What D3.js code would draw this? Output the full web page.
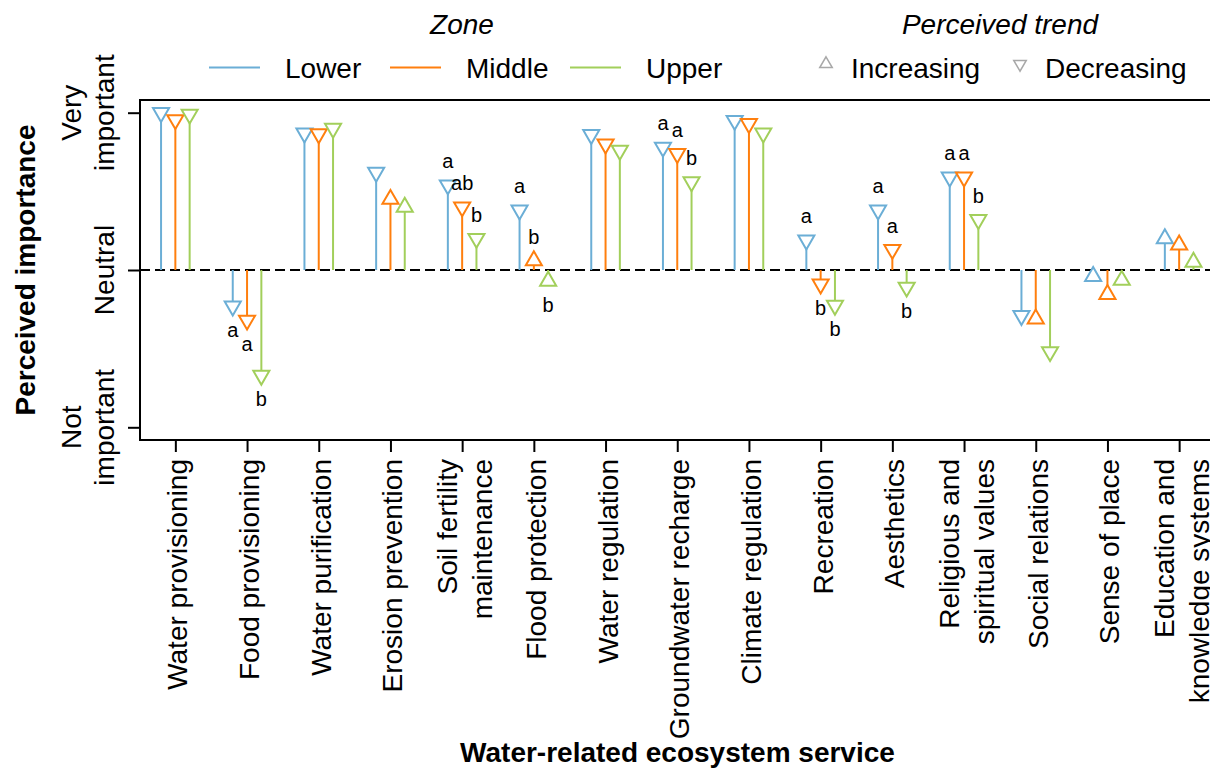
<!DOCTYPE html>
<html>
<head>
<meta charset="utf-8">
<script src="https://cdn.jsdelivr.net/npm/d3@7"></script>
<style>
  html, body { margin: 0; padding: 0; background: #fff; }
  svg { display: block; font-family: "Liberation Sans", Arial, Helvetica, sans-serif; }
</style>
</head>
<body>
<svg id="chart" width="1210" height="768"></svg>
<script>
// ---------- data ----------
const categories = [
  "Water provisioning", "Food provisioning", "Water purification", "Erosion prevention",
  "Soil fertility\nmaintenance", "Flood protection", "Water regulation", "Groundwater recharge",
  "Climate regulation", "Recreation", "Aesthetics", "Religious and\nspiritual values",
  "Social relations", "Sense of place", "Education and\nknowledge systems"
];
const zones = ["Lower", "Middle", "Upper"];
const zoneColors = ["#6BAED6", "#FF7F0E", "#A2CF5B"];

const lowerValues  = [1.00, -0.23, 0.87, 0.62, 0.54, 0.38, 0.86, 0.78, 0.95, 0.19, 0.38, 0.59, -0.29, -0.04, 0.20];
const middleValues = [0.955, -0.32, 0.865, 0.45, 0.40, 0.06, 0.80, 0.74, 0.93, -0.09, 0.13, 0.59, -0.31, -0.155, 0.16];
const upperValues  = [0.99, -0.67, 0.90, 0.40, 0.20, -0.07, 0.76, 0.56, 0.87, -0.225, -0.11, 0.32, -0.52, -0.065, 0.05];

// I = increasing (up triangle), D = decreasing (down triangle)
const lowerTrend  = ["D","D","D","D","D","D","D","D","D","D","D","D","D","I","I"];
const middleTrend = ["D","D","D","I","D","I","D","D","D","D","D","D","I","I","I"];
const upperTrend  = ["D","D","D","I","D","I","D","D","D","D","D","D","D","I","I"];

const lowerLetters  = ["", "a", "", "", "a",  "a", "", "a", "", "a", "a", "a", "", "", ""];
const middleLetters = ["", "a", "", "", "ab", "b", "", "a", "", "b", "a", "a", "", "", ""];
const upperLetters  = ["", "b", "", "", "b",  "b", "", "b", "", "b", "b", "b", "", "", ""];

const yTickValues = [-1, 0, 1];
const yTickLabels = ["Not\nimportant", "Neutral", "Very\nimportant"];
const trendLabels = ["Increasing", "Decreasing"];

// ---------- build ----------
const valuesByZone = [lowerValues, middleValues, upperValues];
const trendByZone = [lowerTrend, middleTrend, upperTrend];
const lettersByZone = [lowerLetters, middleLetters, upperLetters];
const points = [];
categories.forEach((c, i) => {
  zones.forEach((z, j) => {
    points.push({ cat: c, zone: z, color: zoneColors[j], value: valuesByZone[j][i],
                  trend: trendByZone[j][i], letter: lettersByZone[j][i] });
  });
});

const svg = d3.select("#chart");
const FS = 28;
const plotLeft = 140, plotTop = 100, plotBottom = 440, plotRight = 1215;

const x = d3.scalePoint().domain(categories).range([plotLeft - 0.5, plotRight]).padding(0.5);
const xOff = d3.scalePoint().domain(zones).range([-14.3, 14.3]);
const y = d3.scaleLinear().domain([-1, 1]).range([427.3, 112.7]);

const tri = d3.symbol().type(d3.symbolTriangle).size(112);
const triLegend = d3.symbol().type(d3.symbolTriangle).size(68);

// zero dashed line
svg.append("line")
  .attr("x1", plotLeft).attr("x2", 1210)
  .attr("y1", y(0)).attr("y2", y(0))
  .attr("stroke", "#000").attr("stroke-width", 2)
  .attr("stroke-dasharray", "10,5");

// stems
svg.append("g").selectAll("line").data(points).join("line")
  .attr("x1", d => x(d.cat) + xOff(d.zone))
  .attr("x2", d => x(d.cat) + xOff(d.zone))
  .attr("y1", y(0))
  .attr("y2", d => y(d.value))
  .attr("stroke", d => d.color)
  .attr("stroke-width", 2);

// triangles
svg.append("g").selectAll("path").data(points).join("path")
  .attr("d", tri)
  .attr("transform", d => `translate(${x(d.cat) + xOff(d.zone)},${y(d.value)}) rotate(${d.trend === "I" ? 0 : 180})`)
  .attr("fill", "#fff")
  .attr("stroke", d => d.color)
  .attr("stroke-width", 2);

// significance letters
svg.append("g").selectAll("text").data(points.filter(d => d.letter)).join("text")
  .attr("x", d => x(d.cat) + xOff(d.zone))
  .attr("y", d => y(d.value) + (d.value >= 0 ? -17 : 31))
  .attr("text-anchor", "middle")
  .attr("font-size", 20)
  .attr("fill", "#000")
  .text(d => d.letter);

// box
svg.append("rect")
  .attr("x", plotLeft).attr("y", plotTop)
  .attr("width", 1200).attr("height", plotBottom - plotTop)
  .attr("fill", "none").attr("stroke", "#000").attr("stroke-width", 2);

// axes (ticks only)
const yAxis = svg.append("g").attr("transform", `translate(${plotLeft},0)`)
  .call(d3.axisLeft(y).tickValues(yTickValues).tickSize(12).tickFormat(""));
yAxis.select(".domain").remove();
yAxis.selectAll(".tick line").attr("stroke-width", 2);

const xAxis = svg.append("g").attr("transform", `translate(0,${plotBottom})`)
  .call(d3.axisBottom(x).tickSize(12).tickFormat(""));
xAxis.select(".domain").remove();
xAxis.selectAll(".tick line").attr("stroke-width", 2);

// y tick labels (rotated, multi-line; last line nearest axis)
yTickValues.forEach((v, i) => {
  const lines = yTickLabels[i].split("\n");
  lines.forEach((ln, k) => {
    const bx = 114 - (lines.length - 1 - k) * 33;
    svg.append("text")
      .attr("transform", `translate(${bx},${y(v)}) rotate(-90)`)
      .attr("text-anchor", "middle")
      .attr("font-size", FS)
      .text(ln);
  });
});

// x tick labels (rotated, multi-line centered on tick)
categories.forEach(c => {
  const lines = c.split("\n");
  const n = lines.length;
  lines.forEach((ln, k) => {
    const bx = x(c) + 12 + (k - (n - 1) / 2) * 35;
    svg.append("text")
      .attr("transform", `translate(${bx},459) rotate(-90)`)
      .attr("text-anchor", "end")
      .attr("font-size", FS)
      .text(ln);
  });
});

// axis titles
svg.append("text")
  .attr("transform", `translate(35,${(plotTop + plotBottom) / 2}) rotate(-90)`)
  .attr("text-anchor", "middle")
  .attr("font-size", FS).attr("font-weight", "bold")
  .text("Perceived importance");

svg.append("text")
  .attr("x", (plotLeft + plotRight) / 2).attr("y", 762)
  .attr("text-anchor", "middle")
  .attr("font-size", FS).attr("font-weight", "bold")
  .text("Water-related ecosystem service");

// legend: Zone
svg.append("text").attr("x", 462).attr("y", 34).attr("text-anchor", "middle")
  .attr("font-size", FS).attr("font-style", "italic").text("Zone");
const zoneLineX = [209, 390, 570];
zones.forEach((z, j) => {
  svg.append("line")
    .attr("x1", zoneLineX[j]).attr("x2", zoneLineX[j] + 51)
    .attr("y1", 67.5).attr("y2", 67.5)
    .attr("stroke", zoneColors[j]).attr("stroke-width", 2);
  svg.append("text")
    .attr("x", zoneLineX[j] + 76).attr("y", 78)
    .attr("font-size", FS).text(z);
});

// legend: Perceived trend
svg.append("text").attr("x", 1000).attr("y", 34).attr("text-anchor", "middle")
  .attr("font-size", FS).attr("font-style", "italic").text("Perceived trend");
const trendX = [826, 1020];
trendLabels.forEach((t, k) => {
  svg.append("path")
    .attr("d", triLegend)
    .attr("transform", `translate(${trendX[k]},64) rotate(${k === 0 ? 0 : 180})`)
    .attr("fill", "none").attr("stroke", "#A8A8A8").attr("stroke-width", 1.5);
  svg.append("text")
    .attr("x", trendX[k] + 25).attr("y", 78)
    .attr("font-size", FS).text(t);
});
</script>
</body>
</html>
